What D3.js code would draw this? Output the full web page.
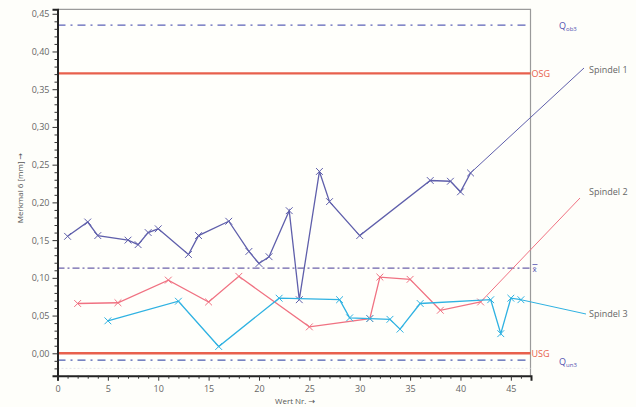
<!DOCTYPE html>
<html><head><meta charset="utf-8">
<script src="https://cdn.jsdelivr.net/npm/d3@7/dist/d3.min.js"></script>
<style>body{margin:0;background:#fefefa;}svg{display:block;font-family:"Open Sans","DejaVu Sans",sans-serif;}</style>
</head><body>
<svg id="c" width="636" height="407"></svg>
<script>
// ---- data ----
const s1X = [1,3,4,7,8,9,10,13,14,17,19,20,21,23,24,26,27,30,37,39,40,41];
const s1Y = [0.155,0.174,0.156,0.150,0.144,0.160,0.165,0.131,0.156,0.175,0.135,0.119,0.128,0.189,0.071,0.241,0.201,0.156,0.229,0.228,0.214,0.239];
const s2X = [2,6,11,15,18,25,31,32,35,38,42];
const s2Y = [0.066,0.067,0.097,0.068,0.102,0.035,0.046,0.101,0.098,0.057,0.068];
const s3X = [5,12,16,22,28,29,31,33,34,36,43,44,45,46];
const s3Y = [0.043,0.069,0.009,0.073,0.071,0.047,0.046,0.045,0.032,0.066,0.071,0.026,0.073,0.071];
const seriesNames = ["Spindel 1","Spindel 2","Spindel 3"];
const refNames = ["Qob3","OSG","xbar","USG","Qun3"];
const refValues = [0.435,0.371,0.113,0.000,-0.009];
const yTicks = [0,0.05,0.10,0.15,0.20,0.25,0.30,0.35,0.40,0.45];
const xTicks = [0,5,10,15,20,25,30,35,40,45];

// ---- layout ----
const svg = d3.select("#c");
const L=57.5, R=530.5, T=9.3, B=375.7;
const x = d3.scaleLinear().domain([0,47]).range([L,R+0.5]);
const y = d3.scaleLinear().domain([-0.0297,0.4559]).range([B,T]);

svg.append("rect").attr("x",L).attr("y",T).attr("width",R-L).attr("height",B-T).attr("fill","#fffffb");
svg.append("path").attr("d",`M${L},${T}H${R}V${B}`).attr("fill","none").attr("stroke","#9a9a9a").attr("stroke-width",1.2);

svg.append("line").attr("x1",L).attr("x2",R).attr("y1",y(-0.02)).attr("y2",y(-0.02))
  .attr("stroke","#e4e4ea").attr("stroke-width",1).attr("stroke-dasharray","2,2");

const refStyle = {
  Qob3:{c:"#5c62b8",w:1.3,d:"8,5,2,5"},
  OSG:{c:"#e8604c",w:2.2,d:null},
  xbar:{c:"#6c62aa",w:1.3,d:"7,3,2,3"},
  USG:{c:"#e8604c",w:2.6,d:null},
  Qun3:{c:"#4c5cb0",w:1.3,d:"8,5,2,5"}
};
refNames.forEach((n,i)=>{
  const s=refStyle[n];
  const l=svg.append("line").attr("x1",L).attr("x2",R).attr("y1",y(refValues[i])).attr("y2",y(refValues[i]))
    .attr("stroke",s.c).attr("stroke-width",s.w);
  if(s.d) l.attr("stroke-dasharray",s.d);
});
const lab = svg.append("g").attr("font-size",9);
function qlab(px,py,sub){
  const t=lab.append("text").attr("x",px).attr("y",py).attr("fill","#5050b0").attr("font-size",9);
  t.append("tspan").text("Q");
  t.append("tspan").attr("font-size",6).attr("dy",2).text(sub);
}
qlab(559,y(refValues[0])+4,"ob3");
lab.append("text").attr("x",R+1).attr("y",y(refValues[1])+3.5).attr("fill","#e8604c").text("OSG");
lab.append("text").attr("x",R+2).attr("y",y(refValues[2])+3.5).attr("fill","#5050b0").attr("font-size",8).text("x̄");
lab.append("line").attr("x1",R+2).attr("x2",R+7).attr("y1",y(refValues[2])-3.5).attr("y2",y(refValues[2])-3.5).attr("stroke","#5050b0").attr("stroke-width",0.8);
lab.append("text").attr("x",R+1).attr("y",y(refValues[3])+4).attr("fill","#e8604c").text("USG");
qlab(559,y(refValues[4])+5,"un3");

const sData = [
  {name:seriesNames[0],xs:s1X,ys:s1Y,c:"#5f5fab",end:[584,68],lab:[589,73]},
  {name:seriesNames[1],xs:s2X,ys:s2Y,c:"#f07282",end:[580,198],lab:[589,195]},
  {name:seriesNames[2],xs:s3X,ys:s3Y,c:"#2fb2e2",end:[586,314],lab:[589,317]}
];
const line = d3.line().x(d=>x(d[0])).y(d=>y(d[1]));
sData.forEach(s=>{
  const pts = s.xs.map((v,i)=>[v,s.ys[i]]);
  svg.append("path").attr("d",line(pts)).attr("fill","none").attr("stroke",s.c).attr("stroke-width",1.3);
  const last = pts[pts.length-1];
  svg.append("line").attr("x1",x(last[0])).attr("y1",y(last[1])).attr("x2",s.end[0]).attr("y2",s.end[1])
    .attr("stroke",s.c).attr("stroke-width",1);
  svg.append("g").selectAll("path").data(pts).join("path")
    .attr("d",d=>{const cx=x(d[0]),cy=y(d[1]),r=3.4;return `M${cx-r},${cy-r}L${cx+r},${cy+r}M${cx-r},${cy+r}L${cx+r},${cy-r}`;})
    .attr("stroke",s.c).attr("stroke-width",1);
  svg.append("text").attr("x",s.lab[0]).attr("y",s.lab[1]).attr("font-size",9).attr("fill","#666").text(s.name);
});

const fmt = d=>d3.format(".2f")(d).replace(".",",");
svg.append("g").attr("transform",`translate(${L},0)`)
  .call(d3.axisLeft(y).tickValues(yTicks).tickFormat(fmt).tickSize(5).tickPadding(3));
const yMinor = d3.range(-0.02,0.456,0.01).filter(v=>Math.abs(Math.round(v*100)%5)!==0);
svg.append("g").attr("transform",`translate(${L},0)`)
  .call(d3.axisLeft(y).tickValues(yMinor).tickFormat("").tickSize(3))
  .call(g=>g.select(".domain").remove());
svg.append("g").attr("transform",`translate(0,${B})`)
  .call(d3.axisBottom(x).tickValues(xTicks).tickSize(5).tickPadding(5));
svg.append("g").attr("transform",`translate(0,${B})`)
  .call(d3.axisBottom(x).tickValues(d3.range(1,47).filter(v=>v%5!==0)).tickFormat("").tickSize(3))
  .call(g=>g.select(".domain").remove());
svg.selectAll(".domain").attr("stroke","#222").attr("stroke-width",2);
svg.selectAll(".tick line").attr("stroke","#333");
svg.selectAll(".tick text").attr("fill","#666").attr("font-size",9).attr("font-family","'Open Sans',sans-serif");

svg.append("text").attr("transform","translate(23,188) rotate(-90)").attr("text-anchor","middle")
  .attr("font-size",8).attr("fill","#555").text("Merkmal 6 [mm] →");
svg.append("text").attr("x",275).attr("y",404).attr("font-size",8).attr("fill","#555").text("Wert Nr. →");
</script>
</body></html>
